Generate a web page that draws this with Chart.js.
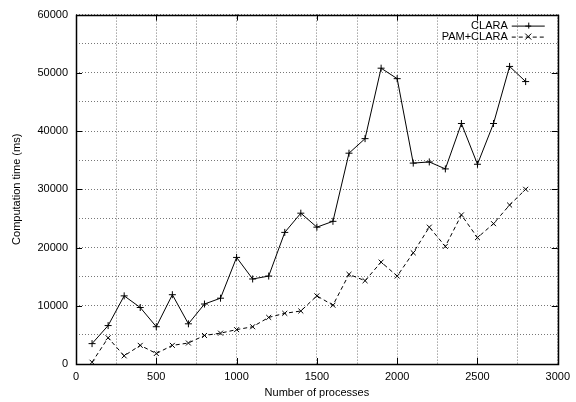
<!DOCTYPE html>
<html>
<head>
<meta charset="utf-8">
<script src="https://cdn.jsdelivr.net/npm/chart.js@4/dist/chart.umd.min.js"></script>
<style>
  html, body { margin: 0; padding: 0; background: #fff; }
  #wrap { width: 576px; height: 402px; position: relative; }
</style>
</head>
<body>
<div id="wrap"><canvas id="c" width="576" height="402"></canvas></div>
<script>
// Number of processes on the x axis
const processes = [100, 200, 300, 400, 500, 600, 700, 800, 900, 1000, 1100, 1200, 1300, 1400,
                   1500, 1600, 1700, 1800, 1900, 2000, 2100, 2200, 2300, 2400, 2500, 2600, 2700, 2800];

// Computation time (ms)
const claraTimes = [3500, 6600, 11700, 9700, 6400, 11900, 6900, 10300, 11300, 18300, 14600, 15100, 22600, 25900,
                    23500, 24500, 36200, 38700, 50800, 49000, 34500, 34700, 33500, 41300, 34300, 41300, 51100, 48500];
const pamClaraTimes = [300, 4500, 1400, 3200, 1800, 3200, 3600, 4900, 5300, 5900, 6400, 8000, 8700, 9100,
                       11700, 10100, 15400, 14300, 17500, 15100, 19100, 23500, 20200, 25600, 21700, 24100, 27300, 30000];

const seriesNames = ['CLARA', 'PAM+CLARA'];
const xTickLabels = [0, 500, 1000, 1500, 2000, 2500, 3000];
const yTickLabels = [0, 10000, 20000, 30000, 40000, 50000, 60000];

const FONT = '"Liberation Sans", Arial, Helvetica, sans-serif';

// Inward tick marks on all four frame edges, plus the frame itself
const frameTicks = {
  id: 'frameTicks',
  afterDatasetsDraw(chart) {
    const { ctx, chartArea: a, scales: { x, y } } = chart;
    ctx.save();
    ctx.strokeStyle = '#000';
    ctx.lineWidth = 1;
    ctx.beginPath();
    const len = 6;
    xTickLabels.forEach(v => {
      const px = Math.round(x.getPixelForValue(v)) + 0.5;
      ctx.moveTo(px, a.bottom); ctx.lineTo(px, a.bottom - len);
      ctx.moveTo(px, a.top); ctx.lineTo(px, a.top + len);
    });
    yTickLabels.forEach(v => {
      const py = Math.round(y.getPixelForValue(v)) + 0.5;
      ctx.moveTo(a.left, py); ctx.lineTo(a.left + len, py);
      ctx.moveTo(a.right, py); ctx.lineTo(a.right - len, py);
    });
    ctx.stroke();
    ctx.lineWidth = 1.5;
    ctx.strokeRect(Math.round(a.left) + 0.5, Math.round(a.top) + 0.5,
                   Math.round(a.right - a.left), Math.round(a.bottom - a.top));
    ctx.restore();
  }
};

// Key in the top-right corner: right-aligned names with line samples
const keyBox = {
  id: 'keyBox',
  afterDraw(chart) {
    const { ctx, chartArea: a } = chart;
    ctx.save();
    ctx.font = '11px ' + FONT;
    ctx.fillStyle = '#000';
    ctx.textAlign = 'right';
    ctx.textBaseline = 'middle';
    const textRight = a.right - 50;
    const x0 = a.right - 46, x1 = a.right - 13;
    chart.data.datasets.forEach((ds, i) => {
      const yy = a.top + 11 + i * 11;
      ctx.fillText(ds.label, textRight, yy);
      ctx.strokeStyle = '#000';
      ctx.lineWidth = 1;
      ctx.setLineDash(ds.borderDash || []);
      ctx.beginPath();
      ctx.moveTo(x0, yy + 0.5); ctx.lineTo(x1, yy + 0.5);
      ctx.stroke();
      ctx.setLineDash([]);
      const cx = (x0 + x1) / 2, r = 3;
      ctx.beginPath();
      if (ds.pointStyle === 'cross') {
        ctx.moveTo(cx - r, yy + 0.5); ctx.lineTo(cx + r, yy + 0.5);
        ctx.moveTo(cx + 0.5, yy - r); ctx.lineTo(cx + 0.5, yy + r);
      } else {
        ctx.moveTo(cx - r, yy - r); ctx.lineTo(cx + r, yy + r);
        ctx.moveTo(cx + r, yy - r); ctx.lineTo(cx - r, yy + r);
      }
      ctx.stroke();
    });
    ctx.restore();
  }
};

// Axis titles placed around the frame
const axisTitles = {
  id: 'axisTitles',
  afterDraw(chart) {
    const { ctx, chartArea: a } = chart;
    ctx.save();
    ctx.font = '11px ' + FONT;
    ctx.fillStyle = '#000';
    ctx.textAlign = 'center';
    ctx.textBaseline = 'middle';
    ctx.fillText('Number of processes', (a.left + a.right) / 2, 393);
    ctx.translate(17, (a.top + a.bottom) / 2);
    ctx.rotate(-Math.PI / 2);
    ctx.fillText('Computation time (ms)', 0, 0);
    ctx.restore();
  }
};

new Chart(document.getElementById('c'), {
  type: 'line',
  data: {
    labels: processes,
    datasets: [
      {
        label: seriesNames[0],
        data: processes.map((p, i) => ({ x: p, y: claraTimes[i] })),
        borderColor: '#000',
        backgroundColor: '#000',
        borderWidth: 1,
        pointStyle: 'cross',
        pointRadius: 3.5,
        pointBorderWidth: 1,
        pointBorderColor: '#000',
        tension: 0,
        fill: false
      },
      {
        label: seriesNames[1],
        data: processes.map((p, i) => ({ x: p, y: pamClaraTimes[i] })),
        borderColor: '#000',
        backgroundColor: '#000',
        borderWidth: 1,
        borderDash: [4, 3],
        pointStyle: 'crossRot',
        pointRadius: 3.5,
        pointBorderWidth: 1,
        pointBorderColor: '#000',
        tension: 0,
        fill: false
      }
    ]
  },
  options: {
    responsive: false,
    animation: false,
    devicePixelRatio: 1,
    layout: { padding: { top: 7, right: 14, left: 0, bottom: 0 } },
    plugins: {
      legend: { display: false },
      tooltip: { enabled: false },
      title: { display: false }
    },
    scales: {
      x: {
        type: 'linear',
        min: 0,
        max: 3000,
        afterFit(scale) { scale.height = 38; },
        border: { display: false, dash: [1, 2] },
        grid: {
          color: '#777',
          lineWidth: 1,
          drawTicks: false
        },
        ticks: {
          stepSize: 250,
          autoSkip: false,
          maxRotation: 0,
          padding: 6,
          color: '#000',
          font: { family: FONT, size: 11 },
          callback: v => (xTickLabels.includes(v) ? String(v) : '')
        }
      },
      y: {
        type: 'linear',
        min: 0,
        max: 60000,
        afterFit(scale) { scale.width = 76; },
        border: { display: false, dash: [1, 2] },
        grid: {
          color: '#777',
          lineWidth: 1,
          drawTicks: false
        },
        ticks: {
          stepSize: 5000,
          autoSkip: false,
          padding: 8,
          color: '#000',
          font: { family: FONT, size: 11 },
          callback: v => (yTickLabels.includes(v) ? String(v) : '')
        }
      }
    }
  },
  plugins: [frameTicks, keyBox, axisTitles]
});
</script>
</body>
</html>
